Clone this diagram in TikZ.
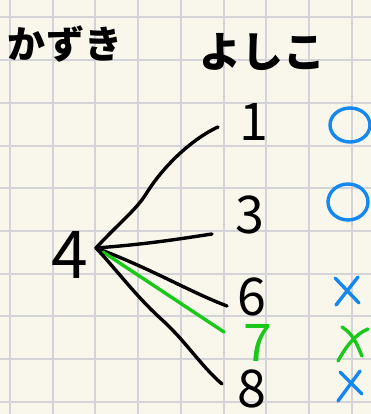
\documentclass[tikz,border=0pt]{standalone}
\usepackage{fontspec}
\newfontfamily\jp{Noto Sans CJK JP}
\definecolor{paper}{RGB}{249,247,236}
\definecolor{gridc}{RGB}{212,212,216}
\definecolor{mblue}{RGB}{20,135,240}
\definecolor{mgreen}{RGB}{25,200,25}
\begin{document}
\begin{tikzpicture}[x=1pt,y=-1pt,
  ink/.style={line width=3.4pt, line cap=round, line join=round},
  gridline/.style={gridc, line width=2pt},
  title/.style={inner sep=0pt, font=\jp\bfseries\fontsize{38}{38}\selectfont},
  num/.style={inner sep=0pt, font=\jp\fontsize{52}{52}\selectfont}]
\fill[paper] (0,0) rectangle (371,414);
\useasboundingbox (0,0) rectangle (371,414);
\foreach \gx in {10,52.7,95.4,138.1,180.8,223.5,266.2,308.9,351.6}
  \draw[gridline] (\gx,0) -- (\gx,414);
\foreach \gy in {17.5,60.2,102.9,145.6,188.3,231,273.7,316.4,359.1,401.8}
  \draw[gridline] (0,\gy) -- (371,\gy);

\node[title] (kazuki) at (65,44) {かずき};
\node[title, font=\jp\bfseries\fontsize{42}{42}\selectfont] (yoshiko) at (262,52) {よしこ};

\node[num, font=\jp\fontsize{66}{66}\selectfont] (n4) at (70,255) {4};
\node[num] (n1) at (254,122) {1};
\node[num] (n3) at (250,215) {3};
\node[num] (n6) at (252,297) {6};
\node[num, text=mgreen] (n7) at (258,343) {7};
\node[num] (n8) at (252,389) {8};

\coordinate (hub) at (96,248);
\coordinate (hubg) at (103,252);
\coordinate (e1) at (218,127);
\coordinate (e3) at (212,234);
\coordinate (e6) at (227,306);
\coordinate (e7) at (224,332);
\coordinate (e8) at (222,384);

\draw[ink] (hub) .. controls (118,224) and (136,210) .. (146,194)
  .. controls (162,168) and (190,140) .. (e1);
\draw[ink] (hub) .. controls (150,244) and (185,238) .. (e3);
\draw[ink] (hub) .. controls (150,268) and (190,292) .. (e6);
\draw[ink, mgreen] (hubg) -- (e7);
\draw[ink] (hub) .. controls (115,268) and (135,295) .. (160,318)
  .. controls (185,340) and (200,365) .. (e8);

\coordinate (m1) at (350,125);
\coordinate (m3) at (348,202);
\draw[ink, mblue] (m1) ellipse (20 and 17);
\draw[ink, mblue] (m3) ellipse (20 and 18);
\draw[ink, mblue] (335,278) -- (359,303) (358,277) -- (336,305);
\draw[ink, mgreen] (342,327) .. controls (355,335) and (358,348) .. (362,356)
  (368,329) .. controls (355,334) and (345,348) .. (338,361);
\draw[ink, mblue] (340,372) -- (362,394) (360,371) -- (338,401);
\end{tikzpicture}
\end{document}
